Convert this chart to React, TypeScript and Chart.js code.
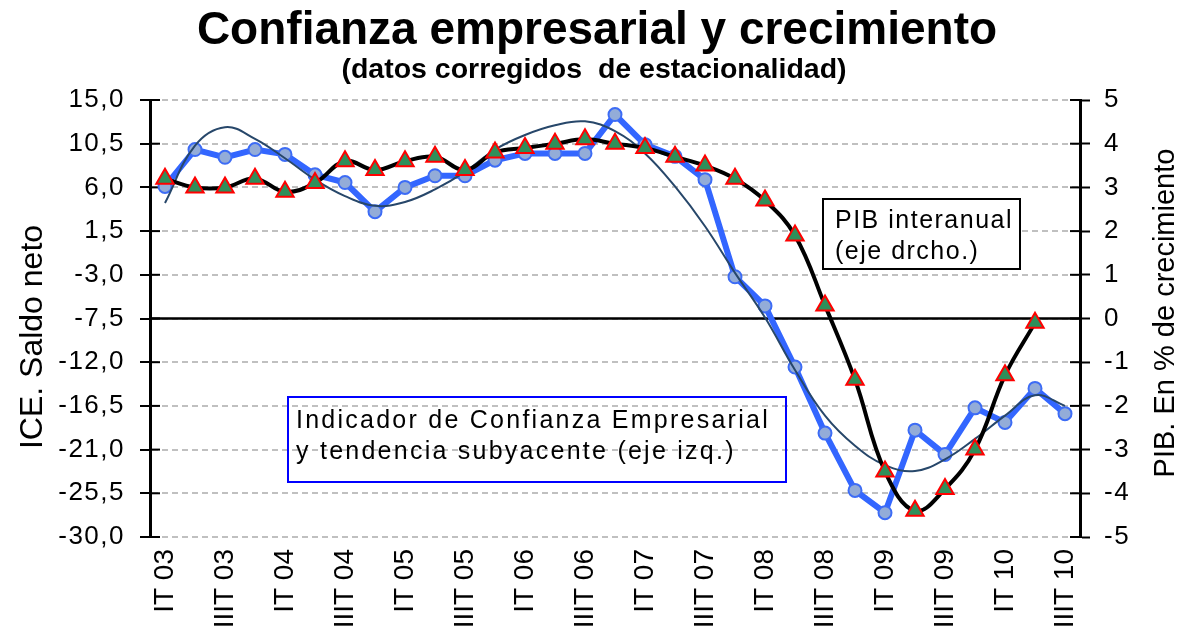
import React, { useEffect, useRef } from 'react';
import { Chart, registerables } from 'chart.js';

Chart.register(...registerables);

// ---------- data ----------
const CATEGORIES = [
  'IT 03', 'IIT 03', 'IIIT 03', 'IVT 03',
  'IT 04', 'IIT 04', 'IIIT 04', 'IVT 04',
  'IT 05', 'IIT 05', 'IIIT 05', 'IVT 05',
  'IT 06', 'IIT 06', 'IIIT 06', 'IVT 06',
  'IT 07', 'IIT 07', 'IIIT 07', 'IVT 07',
  'IT 08', 'IIT 08', 'IIIT 08', 'IVT 08',
  'IT 09', 'IIT 09', 'IIIT 09', 'IVT 09',
  'IT 10', 'IIT 10', 'IIIT 10',
];

// PIB interanual (% , right axis)
const PIB = [
  3.2, 3.0, 3.0, 3.2, 2.9, 3.1, 3.6, 3.4,
  3.6, 3.7, 3.4, 3.8, 3.9, 4.0, 4.1, 4.0,
  3.9, 3.7, 3.5, 3.2, 2.7, 1.9, 0.3, -1.4,
  -3.5, -4.4, -3.9, -3.0, -1.3, -0.1, null,
];

// Indicador de Confianza Empresarial (saldo neto, left axis)
const ICE = [
  6.1, 9.9, 9.1, 9.9, 9.4, 7.3, 6.5, 3.5,
  6.0, 7.2, 7.2, 8.8, 9.5, 9.5, 9.5, 13.5,
  10.4, 9.2, 6.8, -3.2, -6.2, -12.5, -19.3, -25.2,
  -27.5, -19.0, -21.5, -16.7, -18.2, -14.7, -17.3,
];

// Tendencia subyacente del ICE (left axis)
const TREND = [
  4.4, 10.3, 12.2, 11.0, 9.0, 6.8, 5.1, 4.1,
  4.5, 5.8, 7.6, 9.9, 11.4, 12.4, 12.8, 11.8,
  9.5, 6.1, 2.0, -2.8, -7.4, -12.8, -17.5, -20.6,
  -22.6, -23.2, -22.0, -19.9, -17.5, -15.4, -16.5,
];

const LEFT_TICKS = [15, 10.5, 6, 1.5, -3, -7.5, -12, -16.5, -21, -25.5, -30];
const RIGHT_TICKS = [5, 4, 3, 2, 1, 0, -1, -2, -3, -4, -5];

const TITLE = 'Confianza empresarial y crecimiento';
const SUBTITLE = '(datos corregidos  de estacionalidad)';
const LEFT_TITLE = 'ICE. Saldo neto';
const RIGHT_TITLE = 'PIB. En % de crecimiento';
const BOX_PIB = ['PIB interanual', '(eje drcho.)'];
const BOX_ICE = ['Indicador de Confianza Empresarial', 'y tendencia subyacente (eje izq.)'];

const FAMILY = '"Liberation Sans", Arial, Helvetica, sans-serif';
const TICK_SPACING = '1.5px';

const fmtLeft = (v: number) => v.toFixed(1).replace('.', ',');

const overlayPlugin = {
  id: 'overlay',
  beforeUpdate(chart: any) {
    chart.ctx.letterSpacing = TICK_SPACING;
  },
  beforeDraw(chart: any) {
    chart.ctx.letterSpacing = TICK_SPACING;
  },
  beforeDatasetsDraw(chart: any) {
    const { ctx, chartArea } = chart;
    const yL = chart.scales.y;
    const yR = chart.scales.y2;
    ctx.save();
    // zero line (PIB = 0 / ICE = -7,5)
    const y0 = yR.getPixelForValue(0);
    ctx.strokeStyle = '#000';
    ctx.lineWidth = 2.5;
    ctx.beginPath();
    ctx.moveTo(chartArea.left, y0);
    ctx.lineTo(chartArea.right, y0);
    ctx.stroke();
    // inner halves of crossing tick marks
    ctx.lineWidth = 2;
    yL.ticks.forEach((t: any) => {
      const y = yL.getPixelForValue(t.value);
      ctx.beginPath();
      ctx.moveTo(chartArea.left, y);
      ctx.lineTo(chartArea.left + 10, y);
      ctx.stroke();
    });
    yR.ticks.forEach((t: any) => {
      const y = yR.getPixelForValue(t.value);
      ctx.beginPath();
      ctx.moveTo(chartArea.right - 10, y);
      ctx.lineTo(chartArea.right, y);
      ctx.stroke();
    });
    ctx.restore();
  },
  afterDatasetsDraw(chart: any) {
    chart.ctx.letterSpacing = '0px';
  },
  afterDraw(chart: any) {
    const { ctx } = chart;
    ctx.save();
    ctx.letterSpacing = '0px';
    ctx.fillStyle = '#000';
    ctx.textBaseline = 'alphabetic';
    ctx.textAlign = 'center';
    ctx.font = `bold 46px ${FAMILY}`;
    ctx.fillText(TITLE, 597, 44);
    ctx.font = `bold 28.5px ${FAMILY}`;
    ctx.fillText(SUBTITLE, 594, 78);

    // axis titles
    ctx.font = `32px ${FAMILY}`;
    ctx.save();
    ctx.translate(42, 337);
    ctx.rotate(-Math.PI / 2);
    ctx.fillText(LEFT_TITLE, 0, 0);
    ctx.restore();
    ctx.font = `29px ${FAMILY}`;
    ctx.save();
    ctx.translate(1174, 313);
    ctx.rotate(-Math.PI / 2);
    ctx.fillText(RIGHT_TITLE, 0, 0);
    ctx.restore();

    // PIB box
    ctx.fillStyle = '#fff';
    ctx.fillRect(823, 199, 197, 70);
    ctx.strokeStyle = '#000';
    ctx.lineWidth = 2;
    ctx.strokeRect(823, 199, 197, 70);
    ctx.fillStyle = '#000';
    ctx.textAlign = 'left';
    ctx.letterSpacing = '1.5px';
    ctx.font = `25px ${FAMILY}`;
    ctx.fillText(BOX_PIB[0], 835, 228);
    ctx.fillText(BOX_PIB[1], 835, 259);

    // ICE box
    ctx.strokeStyle = '#0000ff';
    ctx.lineWidth = 2;
    ctx.strokeRect(288, 397, 498, 85);
    ctx.letterSpacing = '2.25px';
    ctx.fillText(BOX_ICE[0], 296, 428);
    ctx.fillText(BOX_ICE[1], 296, 459);
    ctx.restore();
  },
};

export default function App() {
  const canvasRef = useRef<HTMLCanvasElement | null>(null);

  useEffect(() => {
    const canvas = canvasRef.current;
    if (!canvas) return;
    const chart = new Chart(canvas, {
      type: 'line',
      data: {
        labels: CATEGORIES,
        datasets: [
          {
            label: 'PIB interanual',
            data: PIB,
            yAxisID: 'y2',
            borderColor: '#000000',
            borderWidth: 4,
            tension: 0.4,
            pointStyle: 'triangle',
            pointRadius: 10,
            pointBackgroundColor: '#2f8f5a',
            pointBorderColor: '#ff0000',
            pointBorderWidth: 2,
          },
          {
            label: 'Tendencia subyacente',
            data: TREND,
            yAxisID: 'y',
            borderColor: '#27476a',
            borderWidth: 2,
            tension: 0.4,
            pointRadius: 0,
          },
          {
            label: 'ICE',
            data: ICE,
            yAxisID: 'y',
            borderColor: '#3366ff',
            borderWidth: 6,
            tension: 0,
            pointStyle: 'circle',
            pointRadius: 6.5,
            pointBackgroundColor: '#93acd8',
            pointBorderColor: '#3d6cf5',
            pointBorderWidth: 2,
          },
        ],
      },
      options: {
        responsive: false,
        animation: false,
        devicePixelRatio: 1,
        layout: { padding: { top: 100, left: 0, right: 0, bottom: 0 } },
        plugins: {
          legend: { display: false },
          tooltip: { enabled: false },
          title: { display: false },
        },
        scales: {
          x: {
            type: 'category',
            offset: true,
            grid: { display: false, drawTicks: false },
            border: { display: false },
            ticks: {
              autoSkip: false,
              minRotation: 90,
              maxRotation: 90,
              padding: 12,
              color: '#000',
              z: 1,
              font: { family: FAMILY, size: 28 },
              callback: (_v: any, i: number) => (i % 2 === 0 ? CATEGORIES[i] : ''),
            },
            afterFit: (s: any) => {
              s.height = 102;
            },
          },
          y: {
            type: 'linear',
            position: 'left',
            min: -30,
            max: 15,
            afterBuildTicks: (s: any) => {
              s.ticks = LEFT_TICKS.map((v) => ({ value: v }));
            },
            grid: {
              color: '#c0c0c0',
              lineWidth: 2,
              drawTicks: true,
              tickLength: 10,
              tickColor: '#000',
              tickWidth: 2,
            },
            border: { display: true, color: '#000', width: 3, dash: [6, 4] },
            ticks: {
              padding: 15,
              color: '#000',
              font: { family: FAMILY, size: 26 },
              callback: (v: any) => fmtLeft(Number(v)),
            },
            afterFit: (s: any) => {
              s.width = 150;
            },
          },
          y2: {
            type: 'linear',
            position: 'right',
            min: -5,
            max: 5,
            afterBuildTicks: (s: any) => {
              s.ticks = RIGHT_TICKS.map((v) => ({ value: v }));
            },
            grid: {
              drawOnChartArea: false,
              drawTicks: true,
              tickLength: 10,
              tickColor: '#000',
              tickWidth: 2,
            },
            border: { display: true, color: '#000', width: 3 },
            ticks: {
              padding: 14,
              color: '#000',
              font: { family: FAMILY, size: 26 },
              callback: (v: any) => String(v),
            },
            afterFit: (s: any) => {
              s.width = 106;
            },
          },
        },
      },
      plugins: [overlayPlugin],
    } as any);
    return () => {
      chart.destroy();
    };
  }, []);

  return (
    <div style={{ position: 'absolute', left: 0, top: 0, width: 1186, height: 639, background: '#fff' }}>
      <canvas ref={canvasRef} width={1186} height={639} style={{ display: 'block' }} />
    </div>
  );
}
